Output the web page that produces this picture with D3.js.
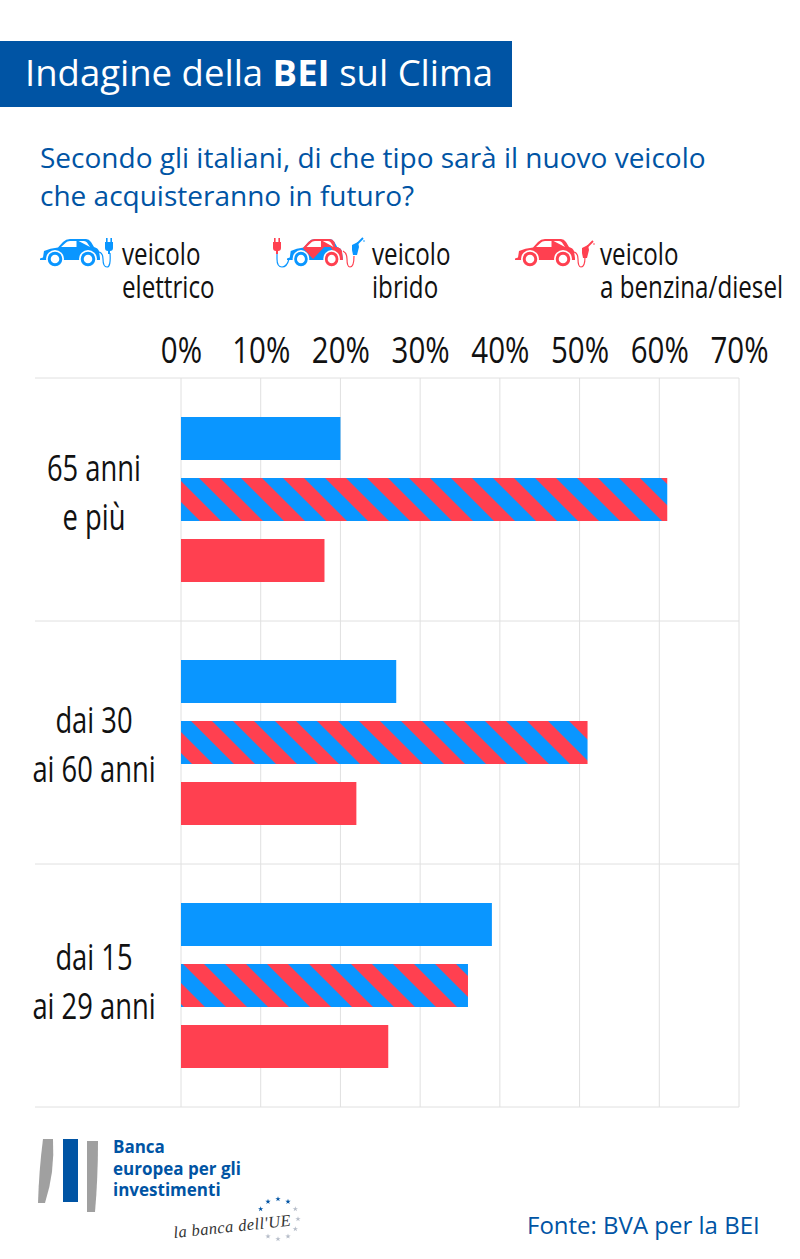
<!DOCTYPE html>
<html>
<head>
<meta charset="utf-8">
<script src="https://cdn.jsdelivr.net/npm/d3@7"></script>
<style>
  html, body { margin: 0; padding: 0; background: #fff; }
  svg { display: block; }
  .narrow { font-family: "Open Sans", "Noto Sans", sans-serif; fill: #111; }
  .myriad { font-family: "Open Sans", "Noto Sans", sans-serif; }
</style>
</head>
<body>
<div id="chart"></div>
<script>
// chart data
const AGE_GROUPS = ["65 anni|e più", "dai 30|ai 60 anni", "dai 15|ai 29 anni"];
const SERIES = ["elettrico", "ibrido", "benzina"];
const ELETTRICO = [20, 27, 39];
const IBRIDO = [61, 51, 36];
const BENZINA = [18, 22, 26];
const TICKS = [0, 10, 20, 30, 40, 50, 60, 70];
const LEGEND_LINES = [["veicolo", "elettrico"], ["veicolo", "ibrido"], ["veicolo", "a benzina/diesel"]];

const BLUE = "#0a96ff";
const RED = "#ff4050";
const DARK_BLUE = "#0054a4";
const HATCH_PHASE = [18, 10, 2]; // where the first red stripe starts on each hybrid bar
const LABEL_Y = [103, 112, 106]; // row labels are not centred the same way in each row

const FRAME_WIDTH = 800;
const FRAME_HEIGHT = 1259;

const FRAME = d3.select("#chart")
                  .append("svg")
                    .attr("width", FRAME_WIDTH)
                    .attr("height", FRAME_HEIGHT);

const DEFS = FRAME.append("defs");

// header
FRAME.append("rect")
  .attr("x", 0).attr("y", 41).attr("width", 512).attr("height", 66)
  .attr("fill", DARK_BLUE);

const HEAD = FRAME.append("text")
  .attr("class", "myriad")
  .attr("x", 25).attr("y", 86)
  .attr("font-size", 36.5)
  .attr("fill", "#fff");
HEAD.append("tspan").text("Indagine della ");
HEAD.append("tspan").attr("font-weight", 700).text("BEI");
HEAD.append("tspan").text(" sul Clima");

// question
FRAME.selectAll(".question")
  .data(["Secondo gli italiani, di che tipo sarà il nuovo veicolo", "che acquisteranno in futuro?"])
  .enter()
  .append("text")
    .attr("class", "myriad question")
    .attr("x", 40)
    .attr("y", (d, i) => 168 + i * 38)
    .attr("font-size", 28)
    .attr("fill", DARK_BLUE)
    .text(d => d);

// scales
const X_SCALE = d3.scaleLinear().domain([0, 70]).range([181, 739]);
const Y_SCALE = d3.scaleBand().domain(AGE_GROUPS).range([378, 1107]);
const BAR_SCALE = d3.scaleBand().domain(SERIES).range([39, 204]).paddingInner(18 / 61);

// grid
const GRID = FRAME.append("g").attr("stroke", "#e0e0e0").attr("stroke-width", 1);
GRID.selectAll(".v")
  .data(TICKS)
  .enter()
  .append("line")
    .attr("x1", d => X_SCALE(d)).attr("x2", d => X_SCALE(d))
    .attr("y1", 378).attr("y2", 1107);
GRID.selectAll(".h")
  .data(AGE_GROUPS.map(d => Y_SCALE(d)).concat([Y_SCALE.range()[1]]))
  .enter()
  .append("line")
    .attr("x1", 35).attr("x2", 739)
    .attr("y1", d => d).attr("y2", d => d);

// axis on top, labels only
const AXIS = FRAME.append("g")
  .attr("transform", "translate(0,363)")
  .call(d3.axisTop(X_SCALE).tickValues(TICKS).tickSize(0).tickPadding(0).tickFormat(d => d + "%"));
AXIS.select(".domain").remove();
AXIS.selectAll("text")
  .attr("class", "narrow")
  .attr("font-size", 36)
  .attr("dy", 0)
  .attr("transform", "scale(0.82,1)");

// stripes for the hybrid bars
const STRIPE = 42 * Math.SQRT1_2;
HATCH_PHASE.forEach((phase, i) => {
  const p = DEFS.append("pattern")
    .attr("id", "hatch" + i)
    .attr("patternUnits", "userSpaceOnUse")
    .attr("width", STRIPE).attr("height", STRIPE)
    .attr("patternTransform", "translate(" + (X_SCALE(0) + phase + 21) + "," + BAR_SCALE("ibrido") + ") rotate(45)");
  p.append("rect").attr("width", STRIPE).attr("height", STRIPE).attr("fill", BLUE);
  p.append("rect").attr("width", STRIPE).attr("height", STRIPE / 2).attr("fill", RED);
});

const ROWS = AGE_GROUPS.map((g, i) => ({
  group: g, i: i,
  values: {elettrico: ELETTRICO[i], ibrido: IBRIDO[i], benzina: BENZINA[i]}
}));

// bars
const ROW = FRAME.selectAll(".row")
  .data(ROWS)
  .enter()
  .append("g")
    .attr("class", "row")
    .attr("transform", d => "translate(0," + Y_SCALE(d.group) + ")");

ROW.selectAll(".bar")
  .data(d => SERIES.map(s => ({s: s, v: d.values[s], i: d.i})))
  .enter()
  .append("rect")
    .attr("class", "bar")
    .attr("x", X_SCALE(0))
    .attr("y", d => BAR_SCALE(d.s))
    .attr("width", d => X_SCALE(d.v) - X_SCALE(0))
    .attr("height", BAR_SCALE.bandwidth())
    .attr("fill", d => d.s === "elettrico" ? BLUE : d.s === "benzina" ? RED : "url(#hatch" + d.i + ")");

// row labels
ROW.selectAll(".lab")
  .data(d => d.group.split("|").map((t, k) => ({t: t, y: LABEL_Y[d.i] + k * 49})))
  .enter()
  .append("text")
    .attr("class", "narrow lab")
    .attr("transform", d => "translate(94," + d.y + ") scale(0.76,1)")
    .attr("text-anchor", "middle")
    .attr("font-size", 36)
    .text(d => d.t);

// legend icons
const CAR_BODY = "M0 19.5 L3 18.5 L4 12 Q10 9 18 8.5 L23 3 Q26 0 30 0 L46 0 Q49 0 51 3 L54 8 Q58 9 59 12 L60 19 L60 21 L0 21 Z";
const CAR_WINDOWS = "M21 8 L26 3.5 Q27 2 30 2 L36.5 2 L36.5 8 Z M38.5 2 L44 2 Q46 2 47 3.5 L50 8 Z";

function wheels(g, left, right) {
  [[15, left], [48, right]].forEach(w => {
    g.append("circle").attr("cx", w[0]).attr("cy", 20).attr("r", 9).attr("fill", "#fff");
    g.append("circle").attr("cx", w[0]).attr("cy", 20).attr("r", 5.8).attr("fill", "none").attr("stroke", w[1]).attr("stroke-width", 3);
  });
}

function car(g, color) {
  g.append("path").attr("d", CAR_BODY).attr("fill", color);
  g.append("path").attr("d", CAR_WINDOWS).attr("fill", "#fff");
  wheels(g, color, color);
}

function plug(g, color, x, y) {
  const p = g.append("g").attr("transform", "translate(" + x + "," + y + ")");
  p.append("path").attr("d", "M-4 0 L4 0 L4 6 Q4 9 1 9 L1 12 L-1 12 L-1 9 Q-4 9 -4 6 Z").attr("fill", color);
  p.append("rect").attr("x", -3).attr("y", -4).attr("width", 1.6).attr("height", 4).attr("fill", color);
  p.append("rect").attr("x", 1.4).attr("y", -4).attr("width", 1.6).attr("height", 4).attr("fill", color);
}

function nozzle(g, color, x, y) {
  const p = g.append("g").attr("transform", "translate(" + x + "," + y + ")");
  p.append("path").attr("d", "M-3 3 L3 0 L4 5 L2 13 L-2 13 L-3 8 Z").attr("fill", color);
  p.append("path").attr("d", "M2 2 L8 -4").attr("stroke", color).attr("stroke-width", 1.8).attr("fill", "none");
  p.append("circle").attr("cx", 9).attr("cy", -1).attr("r", 0.8).attr("fill", color);
}

function cord(g, color, d) {
  g.append("path").attr("d", d).attr("stroke", color).attr("stroke-width", 1.2).attr("fill", "none");
}

const ICON_ELEC = FRAME.append("g").attr("transform", "translate(40,239)");
car(ICON_ELEC, BLUE);
cord(ICON_ELEC, BLUE, "M59 13 Q63 14 63 20 Q63 28 67 28 Q71 28 70 14");
plug(ICON_ELEC, BLUE, 69, 3);

const ICON_HYB = FRAME.append("g").attr("transform", "translate(287,239)");
const HYB_CAR = ICON_HYB.append("g").attr("transform", "scale(0.93,1)");
HYB_CAR.append("path").attr("d", CAR_BODY).attr("fill", BLUE);
HYB_CAR.append("path").attr("d", "M17 9 L23 3 Q26 0 30 0 L46 0 Q49 0 51 3 L52 8 L40 8 L28 20 L17 9 Z M47 8 L54 8 Q58 9 59 12 L60 19 L60 21 L55 21 Z").attr("fill", RED);
HYB_CAR.append("path").attr("d", CAR_WINDOWS).attr("fill", "#fff");
wheels(HYB_CAR, BLUE, RED);
cord(ICON_HYB, BLUE, "M-10 12 L-10 20 Q-10 28 -5 28 Q0 28 2 20");
plug(ICON_HYB, RED, -10, 3);
cord(ICON_HYB, RED, "M56 12 Q60 14 60 20 Q60 28 63 28 Q67 28 67 17");
nozzle(ICON_HYB, BLUE, 68, 3);

const ICON_GAS = FRAME.append("g").attr("transform", "translate(515,239)");
car(ICON_GAS, RED);
cord(ICON_GAS, RED, "M59 13 Q63 14 63 20 Q63 28 66 28 Q70 28 70 18");
nozzle(ICON_GAS, RED, 70, 6);

// legend labels
const LEGEND_X = d3.scaleOrdinal().domain(SERIES).range([122, 372, 600]);
FRAME.selectAll(".leg")
  .data(SERIES)
  .enter()
  .append("g")
    .attr("class", "leg")
    .attr("transform", d => "translate(" + LEGEND_X(d) + ",265)")
  .selectAll("text")
  .data((d, i) => LEGEND_LINES[i])
  .enter()
  .append("text")
    .attr("class", "narrow")
    .attr("transform", (d, i) => "translate(0," + (i * 33) + ") scale(0.78,1)")
    .attr("font-size", 31)
    .text(d => d);

// logo
FRAME.append("path").attr("d", "M43 1139 L53 1139 Q55 1172 45 1203 L38 1203 Q39 1170 43 1139 Z").attr("fill", "#a0a0a0");
FRAME.append("rect").attr("x", 63).attr("y", 1139).attr("width", 15).attr("height", 63).attr("fill", DARK_BLUE);
FRAME.append("path").attr("d", "M87 1141 L98 1141 Q98 1178 95 1212 L87 1212 Z").attr("fill", "#a0a0a0");

FRAME.selectAll(".bank")
  .data(["Banca", "europea per gli", "investimenti"])
  .enter()
  .append("text")
    .attr("class", "myriad bank")
    .attr("x", 113)
    .attr("y", (d, i) => 1153 + i * 21.5)
    .attr("font-size", 17)
    .attr("font-weight", 700)
    .attr("fill", DARK_BLUE)
    .text(d => d);

FRAME.append("text")
  .attr("x", 174).attr("y", 1238)
  .attr("font-family", "'Liberation Serif', serif")
  .attr("font-style", "italic")
  .attr("font-size", 16.5)
  .attr("letter-spacing", 0.4)
  .attr("fill", "#333")
  .attr("transform", "rotate(-6 174 1238)")
  .text("la banca dell'UE");

// EU stars, two of the twelve are hidden behind the handwriting in the reference
const STAR = d3.symbol().type(d3.symbolStar).size(9);
FRAME.selectAll(".star")
  .data([0, 1, 2, 3, 4, 5, 6, 7, 10, 11])
  .enter()
  .append("path")
    .attr("class", "star")
    .attr("d", STAR)
    .attr("fill", d => (d > 7 || d < 2) ? DARK_BLUE : "#b5bcc8")
    .attr("transform", d => {
      const a = d * Math.PI / 6;
      return "translate(" + (278 + 20 * Math.sin(a)) + "," + (1219 - 20 * Math.cos(a)) + ")";
    });

// source
FRAME.append("text")
  .attr("class", "myriad")
  .attr("x", 527).attr("y", 1234)
  .attr("font-size", 24)
  .attr("fill", DARK_BLUE)
  .text("Fonte: BVA per la BEI");
</script>
</body>
</html>
